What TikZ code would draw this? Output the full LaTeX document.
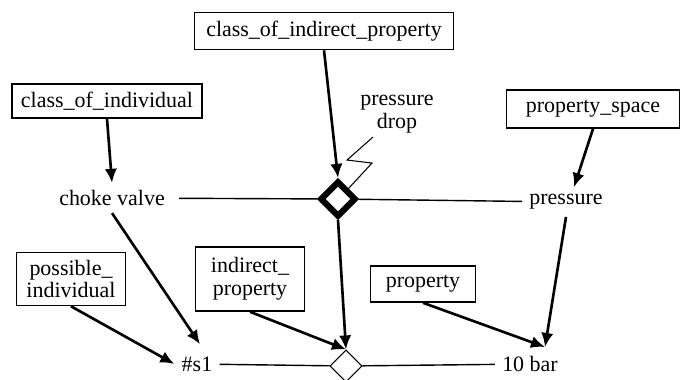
\documentclass[tikz,border=0pt]{standalone}
\usepackage{fontspec}
\setmainfont{Liberation Serif}
\usetikzlibrary{shapes.geometric, arrows.meta, positioning, calc}

\begin{document}
\begin{tikzpicture}[
    x={(0.02cm,0)}, y={(0,-0.02cm)},
    font=\fontsize{12.5}{13}\selectfont,
    % Boxes and plain labels
    ent/.style={draw=black, line width=0.9pt, align=center, inner sep=2pt},
    lbl/.style={align=center, inner sep=4pt},
    % Relationship diamonds
    relbig/.style={diamond, draw=black, line width=3.5pt, fill=white, minimum size=0.72cm, inner sep=0pt},
    relsmall/.style={diamond, draw=black, line width=0.6pt, fill=white, minimum size=0.64cm, inner sep=0pt},
    % Connectors
    arr/.style={line width=1.5pt, -{Latex[length=8pt,width=7pt]}},
    link/.style={line width=0.8pt},
    zig/.style={line width=0.6pt}
]
\useasboundingbox (0,0) rectangle (682,379);

% ===============================
% Classes
% ===============================
\node[ent, minimum width=5.18cm, minimum height=0.74cm] (coip) at (324,31) {class\_of\_indirect\_property};
\node[ent, minimum width=3.8cm, minimum height=0.68cm] (coi) at (107,101) {class\_of\_individual};
\node[ent, minimum width=3.46cm, minimum height=0.76cm] (pspace) at (593,109) {property\_space};

\node[lbl] (choke) at (112,198) {choke valve};
\node[lbl] (pressure) at (566,202) {pressure};
\node[lbl, inner sep=1pt] (pdrop) at (397,114) {pressure\\drop};
\node[relbig] (dtop) at (338,199) {};

% ===============================
% Individuals
% ===============================
\node[ent, minimum width=2.18cm, minimum height=1.06cm] (possind) at (71,279) {possible\_\\individual};
\node[ent, minimum width=2.18cm, minimum height=1.28cm] (indprop) at (250,279) {indirect\_\\property};
\node[ent, minimum width=2.1cm, minimum height=0.72cm] (prop) at (423,284) {property};

\node[lbl] (s1) at (197,364) {\#s1};
\node[lbl] (tenbar) at (530,364) {10 bar};
\coordinate (tentip) at (545,347);
\node[relsmall] (dbot) at (346,366) {};

% Class level links
\draw[link, shorten <=4pt] (choke) -- (dtop);
\draw[link] (dtop) -- (pressure);
\draw[arr] (coip.south) -- (dtop.north);
\draw[arr] (coi.south) -- (choke.north);
\draw[arr] (pspace.south) -- ($(pressure.north)+(8,0)$);
\draw[zig] (pdrop.south) ++(-24,2) -- ++(-26,23) -- ++(25,3) -- (dtop.north east);

% Individual level links
\draw[link] (s1) -- (dbot);
\draw[link] (dbot) -- (tenbar);
\draw[arr] (dtop.south) -- (dbot.north);
\draw[arr] (choke.south) -- ($(s1.north)+(3,-5)$);
\draw[arr] (possind.south) -- (s1.west);
\draw[arr] (indprop.south) -- (dbot.north);
\draw[arr] (prop.south) -- (tentip);
\draw[arr] (pressure.south) -- (tentip);

\end{tikzpicture}
\end{document}
